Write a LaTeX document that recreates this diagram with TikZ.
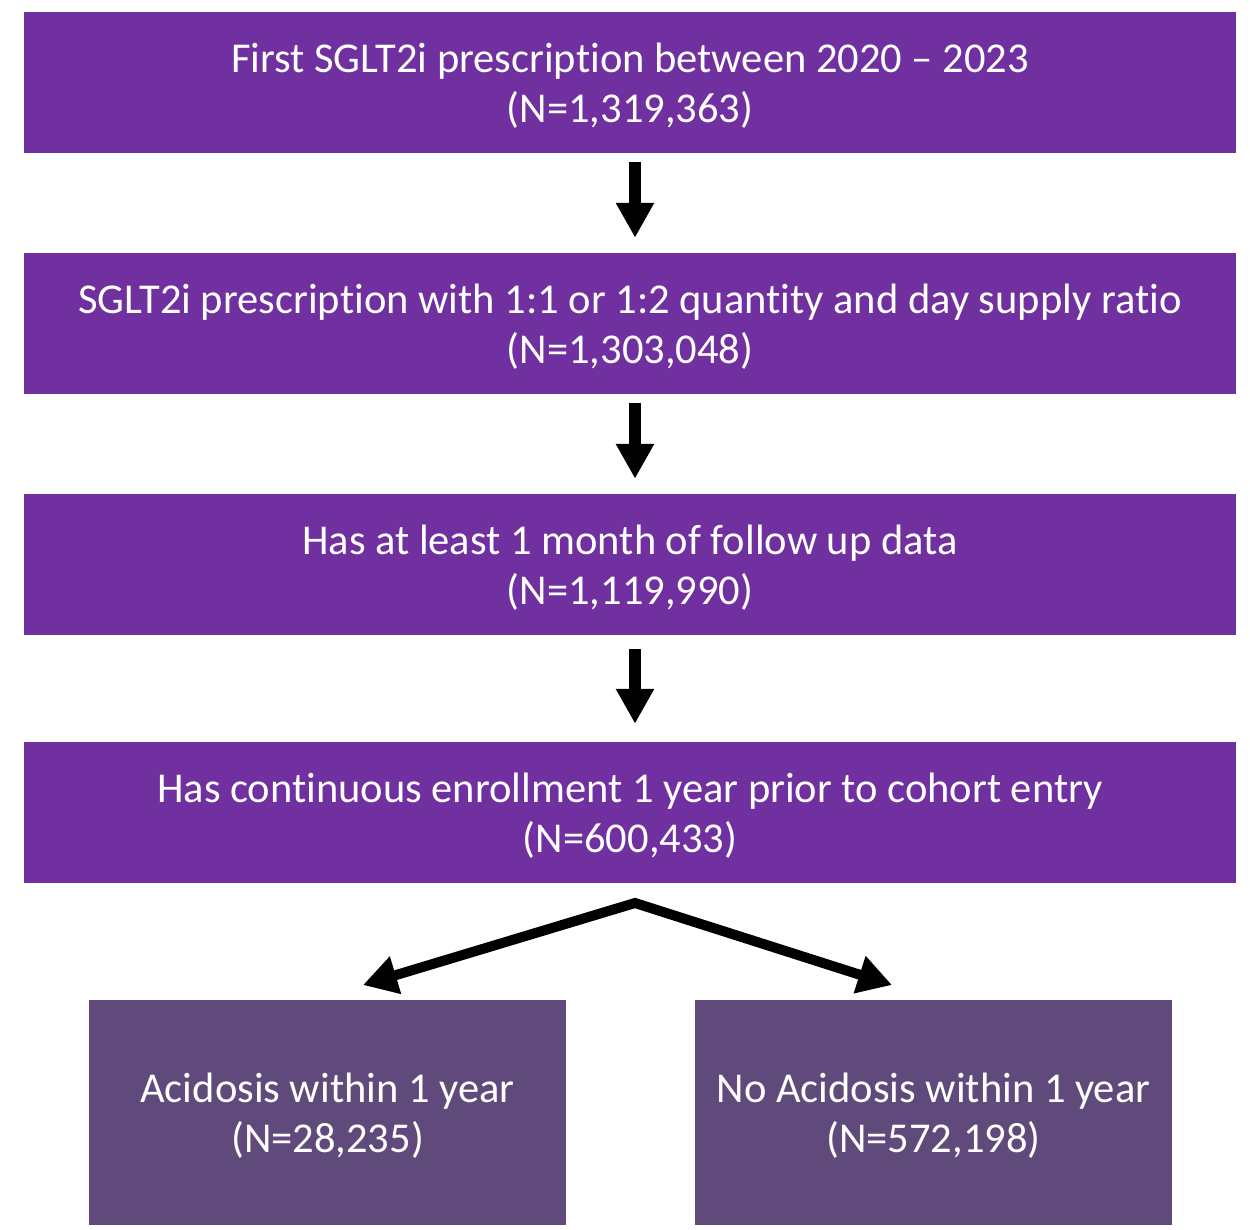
\documentclass[tikz,border=0pt]{standalone}
\usepackage{fontspec}
\setmainfont[Ligatures=NoCommon]{Carlito}
\usetikzlibrary{arrows.meta}
\definecolor{mainpurple}{HTML}{7030A0}
\definecolor{darkpurple}{HTML}{604A7B}
\newcommand{\twolines}[2]{\raisebox{0pt}[\dimexpr\height+10pt\relax][\depth]{\begin{tabular}{@{}c@{}}#1\\#2\end{tabular}}}
\begin{document}
\begin{tikzpicture}[x=1pt,y=-1pt,
  stagebox/.style={fill=mainpurple, text=white, minimum width=1212pt, minimum height=141pt,
    inner sep=0pt, font=\fontsize{42.5}{50}\selectfont},
  outbox/.style={fill=darkpurple, text=white, minimum width=477pt, minimum height=225pt,
    inner sep=0pt, font=\fontsize{42.5}{50}\selectfont},
  downarrow/.style={line width=12pt, -{Triangle[width=36pt,length=35pt]}},
  splitarrow/.style={line width=10pt, line join=miter, {Triangle[width=37pt,length=34pt]}-{Triangle[width=37pt,length=34pt]}}
]
\useasboundingbox (0,0) rectangle (1250,1230);
\node[stagebox] (b1) at (630,82.5) {\twolines{First SGLT2i prescription between 2020 – 2023}{(N=1,319,363)}};
\node[stagebox] (b2) at (630,323.5) {\twolines{SGLT2i prescription with 1:1 or 1:2 quantity and day supply ratio}{(N=1,303,048)}};
\node[stagebox] (b3) at (630,564.5) {\twolines{Has at least 1 month of follow up data}{(N=1,119,990)}};
\node[stagebox] (b4) at (630,812.5) {\twolines{Has continuous enrollment 1 year prior to cohort entry}{(N=600,433)}};
\node[outbox] (b5) at (327.5,1112.5) {\twolines{Acidosis within 1 year}{(N=28,235)}};
\node[outbox] (b6) at (933.5,1112.5) {\twolines{No Acidosis within 1 year}{(N=572,198)}};
\draw[downarrow, shorten <=9pt, shorten >=15pt] ([xshift=5pt]b1.south) -- ([xshift=5pt]b2.north);
\draw[downarrow, shorten <=9pt, shorten >=15pt] ([xshift=5pt]b2.south) -- ([xshift=5pt]b3.north);
\draw[downarrow, shorten <=14pt, shorten >=18pt] ([xshift=5pt]b3.south) -- ([xshift=5pt]b4.north);
\coordinate (split) at (635,903);
\coordinate (tipL) at (363,985);
\coordinate (tipR) at (892,985);
\draw[splitarrow] (tipL) -- (split) -- (tipR);
\end{tikzpicture}
\end{document}
